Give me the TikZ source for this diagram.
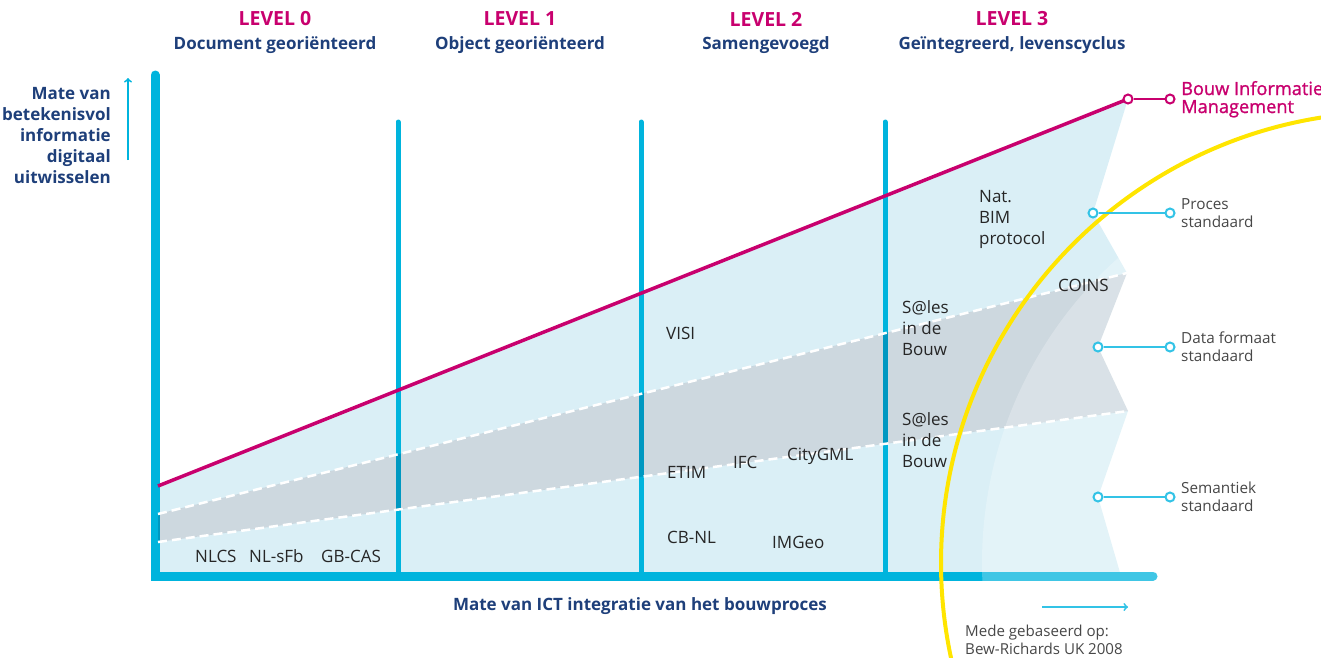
\documentclass[tikz,border=0pt]{standalone}
\usepackage{fontspec}
\setmainfont{Open Sans}
\newfontfamily\bimfont[FakeBold=1.2]{Open Sans}
\usetikzlibrary{arrows, positioning}
\definecolor{axiscyan}{HTML}{00B4DD}
\definecolor{pincyan}{HTML}{33C3E6}
\definecolor{paleblue}{HTML}{DAEFF6}
\definecolor{bandgray}{HTML}{CDD8DF}
\definecolor{bimmagenta}{HTML}{C8006E}
\definecolor{titlenavy}{HTML}{1E3F7A}
\definecolor{arcyellow}{HTML}{FFE500}
\definecolor{labelgray}{HTML}{262626}
\tikzset{
  leveltitle/.style = {text=bimmagenta, font=\bfseries\fontsize{19.5}{21}\selectfont},
  levelsub/.style = {text=titlenavy, font=\bfseries\fontsize{17}{18}\selectfont},
  axislabel/.style = {text=titlenavy, font=\bfseries\fontsize{17}{21}\selectfont, inner sep=0pt},
  itemlabel/.style = {text=labelgray, font=\fontsize{17}{20.7}\selectfont, align=left, anchor=base west, inner sep=0pt},
  sidelabel/.style = {text=labelgray!85, font=\fontsize{15.3}{18}\selectfont, align=left, anchor=base west, inner sep=0pt},
  levelline/.style = {draw=axiscyan, line width=5pt, line cap=round},
  bandedge/.style = {draw=white, line width=2.5pt, dash pattern=on 9pt off 5pt},
  pindot/.style = {circle, draw=#1, fill=white, line width=2pt, inner sep=0pt, minimum size=9pt},
  pindot/.default = pincyan,
  tagline/.style = {draw=#1, line width=2.2pt},
  tagline/.default = pincyan,
}

\begin{document}
\begin{tikzpicture}[x=1pt, y=-1pt]
\useasboundingbox (0,0) rectangle (1321,657);

% corner points of the bands
\coordinate (bimL) at (158,486);
\coordinate (bimR) at (1128,99);
\coordinate (upL) at (158,514);
\coordinate (upR) at (1127,273);
\coordinate (loL) at (158,542);
\coordinate (loR) at (1128,411);

\fill[paleblue] (bimL) -- (bimR) -- (1093,213) -- (upR) -- (upL) -- cycle;
\fill[paleblue] (loL) -- (loR) -- (1098,497) -- (1121,576) -- (158,576) -- cycle;

% levels
\foreach \lx in {398,641,885}
  \draw[levelline] (\lx,122) -- (\lx,572);
\draw[draw=axiscyan, line width=9pt, line cap=round, line join=miter] (155,75) -- (155,576) -- (1153,576);

\fill[bandgray, blend mode=multiply] (upL) -- (upR) -- (1098,347) -- (loR) -- (loL) -- cycle;
\draw[bandedge] (upL) -- (upR);
\draw[bandedge] (loL) -- (loR);

\draw[bimmagenta, line width=3.5pt] (bimL) -- (bimR);

\begin{scope}
\clip (0,0) rectangle (1321,657);
\fill[white, opacity=0.25] (1392,563) circle (410pt);
\draw[arcyellow, line width=4pt] (1392,563) circle (451pt);
\end{scope}

% titles
\node[leveltitle] (t0) at (275,19) {LEVEL 0};
\node[levelsub] (s0) at (275,45) {Document georiënteerd};
\node[leveltitle] (t1) at (520,19) {LEVEL 1};
\node[levelsub] (s1) at (520,45) {Object georiënteerd};
\node[leveltitle] (t2) at (766,19) {LEVEL 2};
\node[levelsub] (s2) at (766,45) {Samengevoegd};
\node[leveltitle] (t3) at (1012,19) {LEVEL 3};
\node[levelsub] (s3) at (1012,45) {Geïntegreerd, levenscyclus};

% axes
\node[axislabel, align=right, anchor=base east] (ylab) at (111,183)
  {Mate van\\betekenisvol\\informatie\\digitaal\\uitwisselen};
\coordinate (yarrS) at (128,160);
\coordinate (yarrE) at (128,78);
\draw[->, axiscyan, line width=1.8pt] (yarrS) -- (yarrE);
\node[axislabel] (xlab) at (640,606) {Mate van ICT integratie van het bouwproces};
\coordinate (xarrS) at (1042,607);
\coordinate (xarrE) at (1128,607);
\draw[->, pincyan, line width=1.8pt] (xarrS) -- (xarrE);
\node[sidelabel, font=\fontsize{15.1}{18}\selectfont] (bron) at (965,654) {Mede gebaseerd op:\\Bew-Richards UK 2008};

% standards
\node[itemlabel] (nlcs) at (195,562) {NLCS};
\node[itemlabel] (nlsfb) at (249,562) {NL-sFb};
\node[itemlabel] (gbcas) at (321,562) {GB-CAS};
\node[itemlabel] (visi) at (666,339) {VISI};
\node[itemlabel] (etim) at (667,478) {ETIM};
\node[itemlabel] (ifc) at (733,468) {IFC};
\node[itemlabel] (citygml) at (787,460) {CityGML};
\node[itemlabel] (cbnl) at (667,543) {CB-NL};
\node[itemlabel] (imgeo) at (772,548) {IMGeo};
\node[itemlabel, font=\fontsize{17}{21}\selectfont] (natbim) at (979,244) {Nat.\\BIM\\protocol};
\node[itemlabel] (sales1) at (902,355) {S@les\\in de\\Bouw};
\node[itemlabel] (sales2) at (902,467) {S@les\\in de\\Bouw};
\node[itemlabel] (coins) at (1058,291) {COINS};

% legend tags
\node[pindot=bimmagenta] (bimA) at (bimR) {};
\node[pindot=bimmagenta] (bimB) at (1170,99) {};
\draw[tagline=bimmagenta] (bimA) -- (bimB);
\node[sidelabel, text=bimmagenta, font=\bimfont\fontsize{18.2}{18}\selectfont] (bimlab) at (1181,113)
  {Bouw Informatie\\Management};

\node[pindot] (procA) at (1093,213) {};
\node[pindot] (procB) at (1170,213) {};
\draw[tagline] (procA) -- (procB);
\node[sidelabel] (proclab) at (1181,227) {Proces\\standaard};

\node[pindot] (dataA) at (1098,347) {};
\node[pindot] (dataB) at (1170,347) {};
\draw[tagline] (dataA) -- (dataB);
\node[sidelabel] (datalab) at (1181,361) {Data formaat\\standaard};

\node[pindot] (semA) at (1098,497) {};
\node[pindot] (semB) at (1170,497) {};
\draw[tagline] (semA) -- (semB);
\node[sidelabel] (semlab) at (1181,511) {Semantiek\\standaard};
\end{tikzpicture}
\end{document}
